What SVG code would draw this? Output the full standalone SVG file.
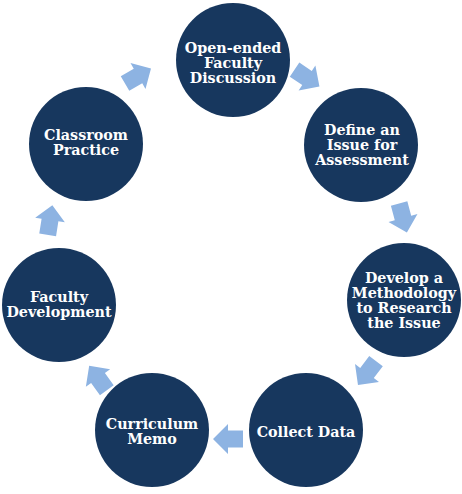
<svg xmlns="http://www.w3.org/2000/svg" width="462" height="494" viewBox="0 0 462 494">
<defs>
<style>
.node circle { fill: #17375E; }
.node text { fill: #FFFFFF; font-family: "DejaVu Serif", "Liberation Serif", serif; font-weight: bold; font-size: 14.3px; text-anchor: middle; }
.arrow { fill: #8DB3E2; }
</style>
<path id="arr" d="M -15,-8.5 L 0,-8.5 L 0,-15 L 15,0 L 0,15 L 0,8.5 L -15,8.5 Z"/>
</defs>
<rect width="462" height="494" fill="#FFFFFF"/>
<g id="connectors">
<use href="#arr" class="arrow" transform="translate(138,76) rotate(-30)"/>
<use href="#arr" class="arrow" transform="translate(307,78) rotate(34)"/>
<use href="#arr" class="arrow" transform="translate(403,218) rotate(75)"/>
<use href="#arr" class="arrow" transform="translate(367,373) rotate(127)"/>
<use href="#arr" class="arrow" transform="translate(228,439) rotate(180)"/>
<use href="#arr" class="arrow" transform="translate(98,378) rotate(234)"/>
<use href="#arr" class="arrow" transform="translate(50,220) rotate(-81)"/>
</g>
<g id="node1" class="node">
<circle cx="233" cy="60" r="57"/>
<text x="233" y="53">Open-ended</text>
<text x="233" y="68">Faculty</text>
<text x="233" y="83">Discussion</text>
</g>
<g id="node2" class="node">
<circle cx="361" cy="145" r="57"/>
<text x="362" y="135">Define an</text>
<text x="362" y="150">Issue for</text>
<text x="362" y="165">Assessment</text>
</g>
<g id="node3" class="node">
<circle cx="404" cy="300" r="57"/>
<text x="404" y="283">Develop a</text>
<text x="404" y="298">Methodology</text>
<text x="404" y="313">to Research</text>
<text x="404" y="328">the Issue</text>
</g>
<g id="node4" class="node">
<circle cx="306" cy="430" r="57"/>
<text x="306" y="437">Collect Data</text>
</g>
<g id="node5" class="node">
<circle cx="152" cy="430" r="57"/>
<text x="152" y="429">Curriculum</text>
<text x="152" y="444">Memo</text>
</g>
<g id="node6" class="node">
<circle cx="59" cy="305" r="57"/>
<text x="59" y="302">Faculty</text>
<text x="59" y="317">Development</text>
</g>
<g id="node7" class="node">
<circle cx="86" cy="144" r="57"/>
<text x="86" y="140">Classroom</text>
<text x="86" y="155">Practice</text>
</g>
</svg>
